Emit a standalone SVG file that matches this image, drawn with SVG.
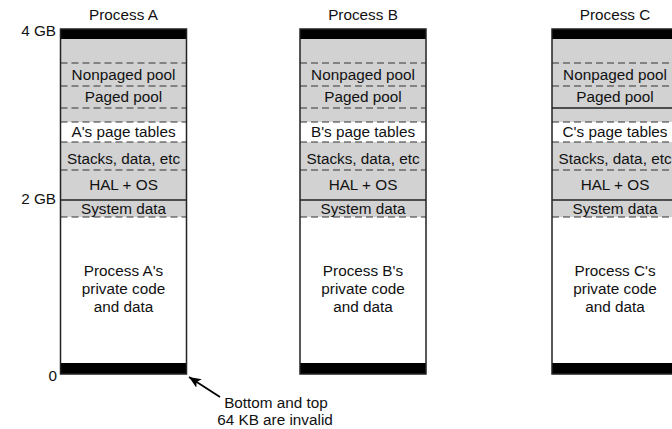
<svg xmlns="http://www.w3.org/2000/svg" width="672" height="429" viewBox="0 0 672 429">
<defs>
<style>
text{font-family:"Liberation Sans",Arial,sans-serif;font-size:15.3px;fill:#111;}
.c{text-anchor:middle;}
.r{text-anchor:end;}
.gray{fill:#d2d2d2;stroke:none;}
.white{fill:#ffffff;stroke:none;}
.bar{fill:#000;stroke:none;}
.dash{stroke:#333;stroke-width:1.2;stroke-dasharray:7 4;fill:none;}
.solid{stroke:#222;stroke-width:1.5;fill:none;}
.frame{fill:none;stroke:#222;stroke-width:1.5;}
</style>
<marker id="ah" markerWidth="13" markerHeight="10" refX="12" refY="5" orient="auto" markerUnits="userSpaceOnUse">
<path d="M12,5 L0,0 L3,5 L0,10 Z" fill="#000"/>
</marker>
</defs>
<rect width="672" height="429" fill="#fff"/>

<text class="r" x="56" y="36">4 GB</text>
<text class="r" x="56" y="204">2 GB</text>
<text class="r" x="57" y="381">0</text>

<g id="processA">
<text class="c" x="123.5" y="20">Process A</text>
<rect class="gray" x="60.5" y="39" width="126" height="178"/>
<rect class="white" x="60.5" y="122" width="126" height="20"/>
<rect class="white" x="60.5" y="217" width="126" height="146"/>
<rect class="bar" x="60.5" y="29" width="126" height="10"/>
<rect class="bar" x="60.5" y="363" width="126" height="11"/>
<line class="dash" x1="60.5" y1="63" x2="186.5" y2="63"/>
<line class="dash" x1="60.5" y1="86" x2="186.5" y2="86"/>
<line class="dash" x1="60.5" y1="108" x2="186.5" y2="108"/>
<line class="dash" x1="60.5" y1="122" x2="186.5" y2="122"/>
<line class="dash" x1="60.5" y1="142" x2="186.5" y2="142"/>
<line class="dash" x1="60.5" y1="170" x2="186.5" y2="170"/>
<line class="solid" x1="60.5" y1="200" x2="186.5" y2="200"/>
<line class="dash" x1="60.5" y1="217" x2="186.5" y2="217"/>
<rect class="frame" x="60.5" y="29" width="126" height="345"/>
<text class="c" x="123.5" y="80">Nonpaged pool</text>
<text class="c" x="123.5" y="102">Paged pool</text>
<text class="c" x="123.5" y="137">A's page tables</text>
<text class="c" x="123.5" y="164">Stacks, data, etc</text>
<text class="c" x="123.5" y="190">HAL + OS</text>
<text class="c" x="123.5" y="214">System data</text>
<text class="c" x="123.5" y="276">Process A's</text>
<text class="c" x="123.5" y="294">private code</text>
<text class="c" x="123.5" y="312">and data</text>
</g>

<g id="processB">
<text class="c" x="363" y="20">Process B</text>
<rect class="gray" x="300" y="39" width="126" height="178"/>
<rect class="white" x="300" y="122" width="126" height="20"/>
<rect class="white" x="300" y="217" width="126" height="146"/>
<rect class="bar" x="300" y="29" width="126" height="10"/>
<rect class="bar" x="300" y="363" width="126" height="11"/>
<line class="dash" x1="300" y1="63" x2="426" y2="63"/>
<line class="dash" x1="300" y1="86" x2="426" y2="86"/>
<line class="dash" x1="300" y1="108" x2="426" y2="108"/>
<line class="dash" x1="300" y1="122" x2="426" y2="122"/>
<line class="dash" x1="300" y1="142" x2="426" y2="142"/>
<line class="dash" x1="300" y1="170" x2="426" y2="170"/>
<line class="solid" x1="300" y1="200" x2="426" y2="200"/>
<line class="dash" x1="300" y1="217" x2="426" y2="217"/>
<rect class="frame" x="300" y="29" width="126" height="345"/>
<text class="c" x="363" y="80">Nonpaged pool</text>
<text class="c" x="363" y="102">Paged pool</text>
<text class="c" x="363" y="137">B's page tables</text>
<text class="c" x="363" y="164">Stacks, data, etc</text>
<text class="c" x="363" y="190">HAL + OS</text>
<text class="c" x="363" y="214">System data</text>
<text class="c" x="363" y="276">Process B's</text>
<text class="c" x="363" y="294">private code</text>
<text class="c" x="363" y="312">and data</text>
</g>

<g id="processC">
<text class="c" x="615" y="20">Process C</text>
<rect class="gray" x="552" y="39" width="126" height="178"/>
<rect class="white" x="552" y="122" width="126" height="20"/>
<rect class="white" x="552" y="217" width="126" height="146"/>
<rect class="bar" x="552" y="29" width="126" height="10"/>
<rect class="bar" x="552" y="363" width="126" height="11"/>
<line class="dash" x1="552" y1="63" x2="678" y2="63"/>
<line class="dash" x1="552" y1="86" x2="678" y2="86"/>
<line class="solid" x1="552" y1="108" x2="678" y2="108"/>
<line class="dash" x1="552" y1="122" x2="678" y2="122"/>
<line class="dash" x1="552" y1="142" x2="678" y2="142"/>
<line class="dash" x1="552" y1="170" x2="678" y2="170"/>
<line class="solid" x1="552" y1="200" x2="678" y2="200"/>
<line class="dash" x1="552" y1="217" x2="678" y2="217"/>
<rect class="frame" x="552" y="29" width="126" height="345"/>
<text class="c" x="615" y="80">Nonpaged pool</text>
<text class="c" x="615" y="102">Paged pool</text>
<text class="c" x="615" y="137">C's page tables</text>
<text class="c" x="615" y="164">Stacks, data, etc</text>
<text class="c" x="615" y="190">HAL + OS</text>
<text class="c" x="615" y="214">System data</text>
<text class="c" x="615" y="276">Process C's</text>
<text class="c" x="615" y="294">private code</text>
<text class="c" x="615" y="312">and data</text>
</g>

<g id="connectors">
<line x1="220" y1="397" x2="189" y2="377" stroke="#000" stroke-width="1.8" marker-end="url(#ah)"/>
</g>

<g id="note">
<text class="c" x="276" y="408">Bottom and top</text>
<text class="c" x="275" y="425">64 KB are invalid</text>
</g>
</svg>
